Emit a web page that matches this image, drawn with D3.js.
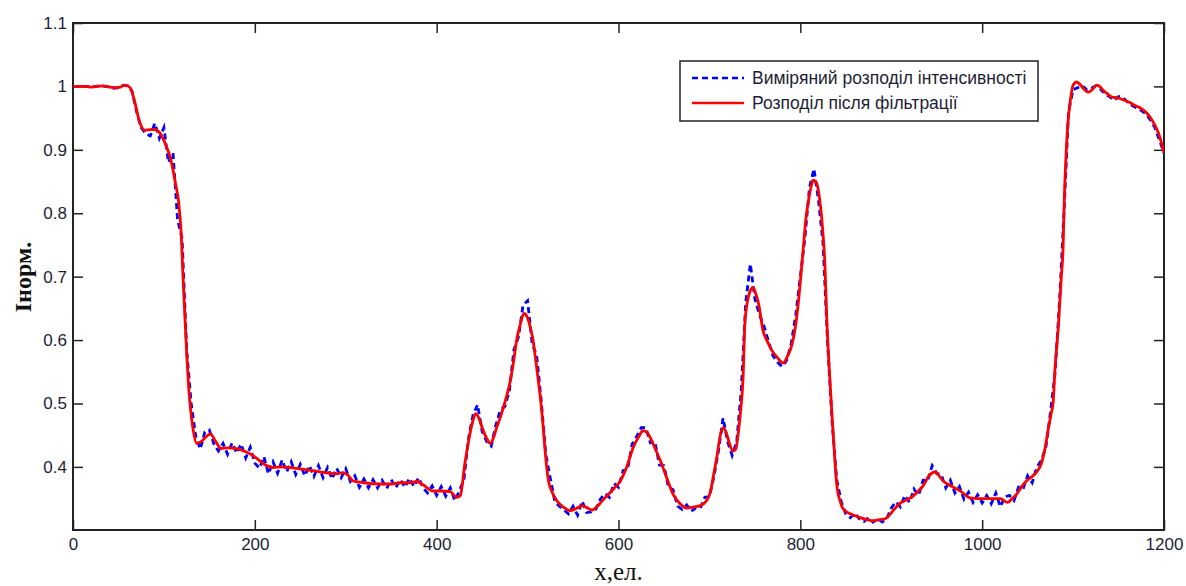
<!DOCTYPE html>
<html>
<head>
<meta charset="utf-8">
<script src="https://cdn.jsdelivr.net/npm/d3@7"></script>
<style>
  html, body { margin: 0; padding: 0; background: #ffffff; }
  svg { display: block; }
</style>
</head>
<body>
<svg id="chart" width="1186" height="586"></svg>
<script>
// ---------- DATA ----------
const xTicks = [0, 200, 400, 600, 800, 1000, 1200];
const yTicks = [0.4, 0.5, 0.6, 0.7, 0.8, 0.9, 1.0, 1.1];
const xLabel = "x,ел.";
const yLabel = "Iнорм.";
const seriesNames = ["Виміряний розподіл інтенсивності", "Розподіл після фільтрації"];

// Filtered (red) distribution: x positions and values
const filteredX = [0,10,20,33,40,46,52,57,63,68,73,79,85,90,96,100,103,107,110,113,116,119,121,123,125,127,129,132,136,141,146,151,157,163,170,180,190,198,205,213,220,230,239,250,264,277,290,297,303,308,320,338,350,360,370,378,385,396,405,415,422,426,431,435,439,443,447,450,455,459,463,466,470,473,477,481,485,488,492,496,500,503,506,508,511,514,517,519,521,523,527,532,540,547,553,560,566,571,576,580,587,595,602,609,616,622,627,631,635,640,646,653,660,667,675,683,690,697,701,704,708,712,715,719,722,726,729,731,734,737,739,742,745,748,751,754,759,764,769,775,781,786,791,795,798,803,806,809,812,814,818,821,824,827,829,832,835,838,840,844,847,855,866,873,880,887,893,898,902,910,917,924,930,935,941,948,952,957,966,976,987,995,1005,1012,1020,1028,1033,1038,1044,1049,1055,1060,1065,1069,1073,1076,1078,1080,1084,1087,1089,1090,1092,1094,1097,1100,1104,1107,1110,1113,1117,1121,1126,1130,1133,1138,1143,1149,1155,1162,1168,1174,1181,1185,1188,1191,1194,1197,1200];
const filteredY = [1.000,1.000,0.999,1.001,0.999,0.998,0.999,1.002,0.998,0.975,0.945,0.931,0.932,0.932,0.926,0.915,0.904,0.888,0.868,0.845,0.820,0.768,0.700,0.640,0.580,0.530,0.495,0.460,0.437,0.440,0.447,0.452,0.440,0.429,0.430,0.429,0.424,0.418,0.410,0.402,0.399,0.400,0.399,0.397,0.394,0.391,0.389,0.391,0.386,0.378,0.375,0.373,0.373,0.375,0.375,0.377,0.372,0.362,0.362,0.361,0.352,0.355,0.405,0.440,0.468,0.484,0.475,0.462,0.445,0.437,0.448,0.462,0.478,0.492,0.512,0.536,0.570,0.600,0.625,0.642,0.635,0.620,0.600,0.579,0.545,0.510,0.465,0.430,0.400,0.378,0.360,0.347,0.336,0.331,0.334,0.339,0.335,0.332,0.337,0.343,0.354,0.366,0.378,0.400,0.430,0.447,0.457,0.455,0.446,0.430,0.410,0.383,0.357,0.343,0.335,0.337,0.339,0.347,0.360,0.383,0.414,0.450,0.462,0.452,0.437,0.425,0.428,0.445,0.484,0.540,0.626,0.662,0.678,0.683,0.673,0.658,0.615,0.597,0.583,0.572,0.564,0.575,0.594,0.625,0.662,0.741,0.790,0.820,0.843,0.852,0.847,0.825,0.784,0.720,0.636,0.550,0.478,0.410,0.373,0.345,0.334,0.326,0.320,0.317,0.315,0.317,0.318,0.324,0.331,0.343,0.348,0.354,0.362,0.370,0.385,0.392,0.387,0.378,0.370,0.362,0.351,0.350,0.350,0.350,0.350,0.344,0.350,0.357,0.370,0.378,0.385,0.392,0.405,0.428,0.462,0.485,0.500,0.552,0.626,0.699,0.746,0.805,0.884,0.936,0.978,1.002,1.007,1.004,0.999,0.994,0.991,0.995,1.002,0.999,0.994,0.988,0.983,0.982,0.979,0.975,0.970,0.966,0.958,0.951,0.944,0.936,0.926,0.912,0.895];

// Measured (blue, dashed) distribution: x every 5 elements from 0 to 1200
const measuredX = d3.range(0, 1201, 5);
const measuredY = [
  1.000,1.000,1.000,1.000,0.999,1.000,1.001,1.000,0.999,0.997,0.998,1.002,1.001,
  0.992,0.960,0.935,0.925,0.922,0.942,0.918,0.935,0.880,0.895,0.790,0.760,0.585,0.500,
  0.448,0.428,0.455,0.458,0.436,0.425,0.437,0.420,0.438,0.422,0.436,0.414,0.431,0.406,0.398,0.416,0.389,0.408,0.390,0.411,0.392,0.408,0.388,0.404,0.386,0.402,0.385,0.402,0.383,0.399,0.381,0.398,0.383,0.397,0.377,0.386,0.368,0.381,0.367,0.380,0.367,0.379,0.366,0.380,0.367,0.380,0.368,0.382,0.369,0.383,0.367,0.359,0.370,0.355,0.369,0.354,0.367,0.347,0.362,
  0.380,0.445,0.482,0.498,0.456,0.440,0.433,0.465,0.490,0.495,0.520,0.585,0.605,0.655,0.662,0.595,0.575,0.505,0.420,0.382,0.345,0.338,0.332,
  0.326,0.338,0.324,0.346,0.328,0.329,0.333,0.349,0.358,0.352,0.374,0.368,0.394,0.396,0.436,0.448,0.462,0.462,0.438,0.440,0.403,0.402,0.368,0.364,0.338,0.333,0.340,0.330,0.335,0.335,0.352,
  0.353,0.385,0.426,0.477,0.440,0.418,0.440,0.520,0.660,0.720,0.665,0.640,0.622,0.598,0.575,0.565,0.558,0.568,0.595,0.640,0.700,0.760,0.840,0.870,0.820,0.752,0.595,0.470,0.380,0.345,0.326,0.320,0.327,0.318,0.314,0.320,0.313,0.318,0.313,0.318,
  0.335,0.345,0.337,0.355,0.344,0.365,0.355,0.379,0.378,0.402,0.390,0.388,0.367,0.379,0.359,0.369,0.349,0.360,0.344,0.356,0.343,0.355,0.342,0.359,0.337,0.353,0.355,0.347,0.368,0.365,0.386,0.375,0.399,
  0.410,0.430,0.485,0.545,0.660,0.800,0.960,0.995,0.998,1.001,0.995,0.997,1.001,0.996,0.988,0.984,0.978,0.984,0.982,0.975,0.970,0.966,0.962,0.957,0.947,0.935,0.915,0.895
];

// ---------- CHART ----------
const plot = { left: 73, right: 1164, top: 23, bottom: 530 };
const svg = d3.select("#chart");

const x = d3.scaleLinear().domain([0, 1200]).range([plot.left, plot.right]);
const y = d3.scaleLinear().domain([0.3005, 1.1]).range([plot.bottom, plot.top]);

const tickFont = "'Liberation Sans', Arial, sans-serif";
const labelColor = "#1e1e34";
const tickLen = 10;

svg.append("defs").append("clipPath").attr("id", "clip")
  .append("rect").attr("x", plot.left).attr("y", plot.top)
  .attr("width", plot.right - plot.left).attr("height", plot.bottom - plot.top);

const axB = svg.append("g").attr("transform", `translate(0,${plot.bottom})`)
  .call(d3.axisBottom(x).tickValues(xTicks).tickSizeInner(-tickLen).tickSizeOuter(0).tickPadding(8).tickFormat(d3.format("d")));
const axT = svg.append("g").attr("transform", `translate(0,${plot.top})`)
  .call(d3.axisTop(x).tickValues(xTicks).tickSizeInner(-tickLen).tickSizeOuter(0).tickFormat(""));
const axL = svg.append("g").attr("transform", `translate(${plot.left},0)`)
  .call(d3.axisLeft(y).tickValues(yTicks).tickSizeInner(-tickLen).tickSizeOuter(0).tickPadding(6)
    .tickFormat(d => (Math.abs(d - 1) < 1e-9 ? "1" : d3.format(".1f")(d))));
const axR = svg.append("g").attr("transform", `translate(${plot.right},0)`)
  .call(d3.axisRight(y).tickValues(yTicks).tickSizeInner(-tickLen).tickSizeOuter(0).tickFormat(""));

[axB, axT, axL, axR].forEach(g => {
  g.select(".domain").remove();
  g.selectAll(".tick line").attr("stroke", "#222").attr("stroke-width", 1.5);
  g.selectAll(".tick text").attr("fill", labelColor).style("font-family", tickFont).style("font-size", "17px");
});

svg.append("rect").attr("x", plot.left).attr("y", plot.top)
  .attr("width", plot.right - plot.left).attr("height", plot.bottom - plot.top)
  .attr("fill", "none").attr("stroke", "#222").attr("stroke-width", 2);

const lineGen = d3.line().x(d => x(d[0])).y(d => y(d[1]));
const measured = measuredX.map((v, i) => [v, measuredY[i]]);
const filtered = filteredX.map((v, i) => [v, filteredY[i]]);

const gLines = svg.append("g").attr("clip-path", "url(#clip)");
gLines.append("path").datum(measured).attr("d", lineGen)
  .attr("fill", "none").attr("stroke", "#0000ff").attr("stroke-width", 2.8)
  .attr("stroke-dasharray", "6,4");
gLines.append("path").datum(filtered).attr("d", lineGen.curve(d3.curveMonotoneX))
  .attr("fill", "none").attr("stroke", "#ff0000").attr("stroke-width", 2.8)
  .attr("stroke-linejoin", "round");

svg.append("text").attr("x", (plot.left + plot.right) / 2).attr("y", 580)
  .attr("text-anchor", "middle").attr("fill", "#111")
  .style("font-family", "'Liberation Serif', 'Times New Roman', serif").style("font-size", "25px")
  .text(xLabel);
svg.append("text").attr("transform", "translate(31,277) rotate(-90)")
  .attr("text-anchor", "middle").attr("fill", "#111")
  .style("font-family", "'Liberation Serif', 'Times New Roman', serif").style("font-size", "24px")
  .style("font-weight", "bold")
  .text(yLabel);

const lg = svg.append("g");
lg.append("rect").attr("x", 680).attr("y", 61).attr("width", 358).attr("height", 60)
  .attr("fill", "#fff").attr("stroke", "#222").attr("stroke-width", 1.5);
const legendItems = [
  { name: seriesNames[0], color: "#0000ff", dash: "6,4", y: 78 },
  { name: seriesNames[1], color: "#ff0000", dash: null, y: 103 }
];
legendItems.forEach(it => {
  lg.append("line").attr("x1", 692).attr("x2", 744).attr("y1", it.y).attr("y2", it.y)
    .attr("stroke", it.color).attr("stroke-width", 2.5).attr("stroke-dasharray", it.dash);
  lg.append("text").attr("x", 752).attr("y", it.y).attr("dy", "0.35em")
    .attr("fill", labelColor).style("font-family", tickFont).style("font-size", "17.5px")
    .text(it.name);
});
</script>
</body>
</html>
